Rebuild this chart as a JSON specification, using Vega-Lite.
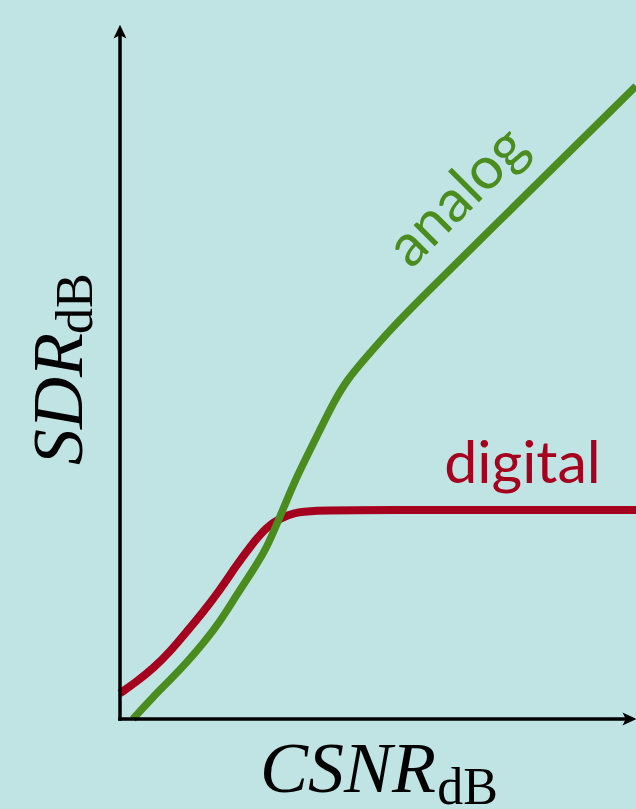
{
  "$schema": "https://vega.github.io/schema/vega-lite/v6.json",
  "autosize": {"type": "none"},
  "padding": {"left": 120, "top": 25, "right": 0, "bottom": 90},
  "width": 516,
  "height": 694,
  "background": "#c0e4e4",
  "view": {"stroke": null},
  "datasets": {
    "curves": [
      {"scheme": "digital", "csnr": 0.0, "sdr": 1.85},
      {"scheme": "digital", "csnr": 1.29, "sdr": 2.69},
      {"scheme": "digital", "csnr": 2.58, "sdr": 3.65},
      {"scheme": "digital", "csnr": 3.88, "sdr": 4.85},
      {"scheme": "digital", "csnr": 5.17, "sdr": 6.29},
      {"scheme": "digital", "csnr": 6.46, "sdr": 7.73},
      {"scheme": "digital", "csnr": 7.75, "sdr": 9.29},
      {"scheme": "digital", "csnr": 9.05, "sdr": 11.1},
      {"scheme": "digital", "csnr": 10.08, "sdr": 12.41},
      {"scheme": "digital", "csnr": 11.37, "sdr": 13.85},
      {"scheme": "digital", "csnr": 12.4, "sdr": 14.45},
      {"scheme": "digital", "csnr": 13.43, "sdr": 14.86},
      {"scheme": "digital", "csnr": 14.98, "sdr": 15.02},
      {"scheme": "digital", "csnr": 18.6, "sdr": 15.06},
      {"scheme": "digital", "csnr": 40.0, "sdr": 15.06},
      {"scheme": "analog", "csnr": 1.0, "sdr": 0.0},
      {"scheme": "analog", "csnr": 2.58, "sdr": 1.61},
      {"scheme": "analog", "csnr": 3.88, "sdr": 2.81},
      {"scheme": "analog", "csnr": 5.17, "sdr": 4.06},
      {"scheme": "analog", "csnr": 6.46, "sdr": 5.45},
      {"scheme": "analog", "csnr": 7.75, "sdr": 7.01},
      {"scheme": "analog", "csnr": 9.05, "sdr": 8.95},
      {"scheme": "analog", "csnr": 10.33, "sdr": 10.75},
      {"scheme": "analog", "csnr": 11.37, "sdr": 12.3},
      {"scheme": "analog", "csnr": 12.4, "sdr": 14.57},
      {"scheme": "analog", "csnr": 13.43, "sdr": 16.9},
      {"scheme": "analog", "csnr": 14.47, "sdr": 18.9},
      {"scheme": "analog", "csnr": 15.5, "sdr": 20.82},
      {"scheme": "analog", "csnr": 16.53, "sdr": 22.75},
      {"scheme": "analog", "csnr": 17.57, "sdr": 24.42},
      {"scheme": "analog", "csnr": 19.12, "sdr": 26.1},
      {"scheme": "analog", "csnr": 20.93, "sdr": 28.03},
      {"scheme": "analog", "csnr": 23.26, "sdr": 30.26},
      {"scheme": "analog", "csnr": 27.91, "sdr": 34.51},
      {"scheme": "analog", "csnr": 40.0, "sdr": 45.6}
    ]
  },
  "layer": [
    {
      "data": {"name": "curves"},
      "transform": [{"filter": "datum.scheme === 'digital'"}],
      "mark": {"type": "line", "interpolate": "basis", "strokeWidth": 8, "color": "#a5001e"},
      "encoding": {
        "x": {"field": "csnr", "type": "quantitative", "axis": null, "scale": {"domain": [0, 40], "nice": false, "zero": false}},
        "y": {"field": "sdr", "type": "quantitative", "axis": null, "scale": {"domain": [0, 50], "nice": false, "zero": false}}
      }
    },
    {
      "data": {"name": "curves"},
      "transform": [{"filter": "datum.scheme === 'analog'"}],
      "mark": {"type": "line", "interpolate": "basis", "strokeWidth": 7.5, "color": "#4a8c1e"},
      "encoding": {
        "x": {"field": "csnr", "type": "quantitative", "axis": null},
        "y": {"field": "sdr", "type": "quantitative", "axis": null}
      }
    },
    {
      "data": {"values": [{}]},
      "mark": {"type": "rule", "color": "black", "strokeWidth": 3.5, "strokeCap": "square"},
      "encoding": {
        "x": {"datum": 0, "type": "quantitative", "axis": null},
        "x2": {"datum": 39.5},
        "y": {"datum": 0, "type": "quantitative", "axis": null}
      }
    },
    {
      "data": {"values": [{}]},
      "mark": {"type": "rule", "color": "black", "strokeWidth": 3.5, "strokeCap": "square"},
      "encoding": {
        "x": {"datum": 0, "type": "quantitative", "axis": null},
        "y": {"datum": 0, "type": "quantitative", "axis": null},
        "y2": {"datum": 49.5}
      }
    },
    {
      "data": {"values": [{}]},
      "mark": {"type": "point", "filled": true, "color": "black", "opacity": 1, "size": 210, "strokeWidth": 0,
               "shape": "M1,0L-0.9,0.9L-0.45,0L-0.9,-0.9Z"},
      "encoding": {
        "x": {"datum": 39.46, "type": "quantitative", "axis": null},
        "y": {"datum": 0, "type": "quantitative", "axis": null}
      }
    },
    {
      "data": {"values": [{}]},
      "mark": {"type": "point", "filled": true, "color": "black", "opacity": 1, "size": 210, "strokeWidth": 0,
               "shape": "M0,-1L0.9,0.9L0,0.45L-0.9,0.9Z"},
      "encoding": {
        "x": {"datum": 0, "type": "quantitative", "axis": null},
        "y": {"datum": 49.5, "type": "quantitative", "axis": null}
      }
    },
    {
      "data": {"values": [{"label": "digital", "csnr": 31.2, "sdr": 17.0}]},
      "mark": {"type": "text", "font": "Lato", "fontSize": 59, "color": "#a5001e", "align": "center", "baseline": "alphabetic"},
      "encoding": {
        "x": {"field": "csnr", "type": "quantitative", "axis": null},
        "y": {"field": "sdr", "type": "quantitative", "axis": null},
        "text": {"field": "label"}
      }
    },
    {
      "data": {"values": [{"label": "analog", "csnr": 27.2, "sdr": 36.66}]},
      "mark": {"type": "text", "font": "Lato", "fontSize": 59, "color": "#4a8c1e", "align": "center", "baseline": "alphabetic", "angle": 315},
      "encoding": {
        "x": {"field": "csnr", "type": "quantitative", "axis": null},
        "y": {"field": "sdr", "type": "quantitative", "axis": null},
        "text": {"field": "label"}
      }
    },
    {
      "data": {"values": [{}]},
      "mark": {"type": "text", "text": "CSNR", "font": "Liberation Serif", "fontStyle": "italic", "fontSize": 72, "color": "black", "align": "right", "baseline": "alphabetic"},
      "encoding": {
        "x": {"datum": 24.5, "type": "quantitative", "axis": null},
        "y": {"datum": -5.26, "type": "quantitative", "axis": null}
      }
    },
    {
      "data": {"values": [{}]},
      "mark": {"type": "text", "text": "dB", "font": "Liberation Serif", "fontSize": 52, "color": "black", "align": "left", "baseline": "alphabetic"},
      "encoding": {
        "x": {"datum": 24.6, "type": "quantitative", "axis": null},
        "y": {"datum": -6.1, "type": "quantitative", "axis": null}
      }
    },
    {
      "data": {"values": [{}]},
      "mark": {"type": "text", "text": "SDR", "font": "Liberation Serif", "fontStyle": "italic", "fontSize": 72, "color": "black", "align": "right", "baseline": "alphabetic", "angle": 270},
      "encoding": {
        "x": {"datum": -2.95, "type": "quantitative", "axis": null},
        "y": {"datum": 27.81, "type": "quantitative", "axis": null}
      }
    },
    {
      "data": {"values": [{}]},
      "mark": {"type": "text", "text": "dB", "font": "Liberation Serif", "fontSize": 52, "color": "black", "align": "left", "baseline": "alphabetic", "angle": 270},
      "encoding": {
        "x": {"datum": -2.17, "type": "quantitative", "axis": null},
        "y": {"datum": 27.74, "type": "quantitative", "axis": null}
      }
    }
  ]
}
